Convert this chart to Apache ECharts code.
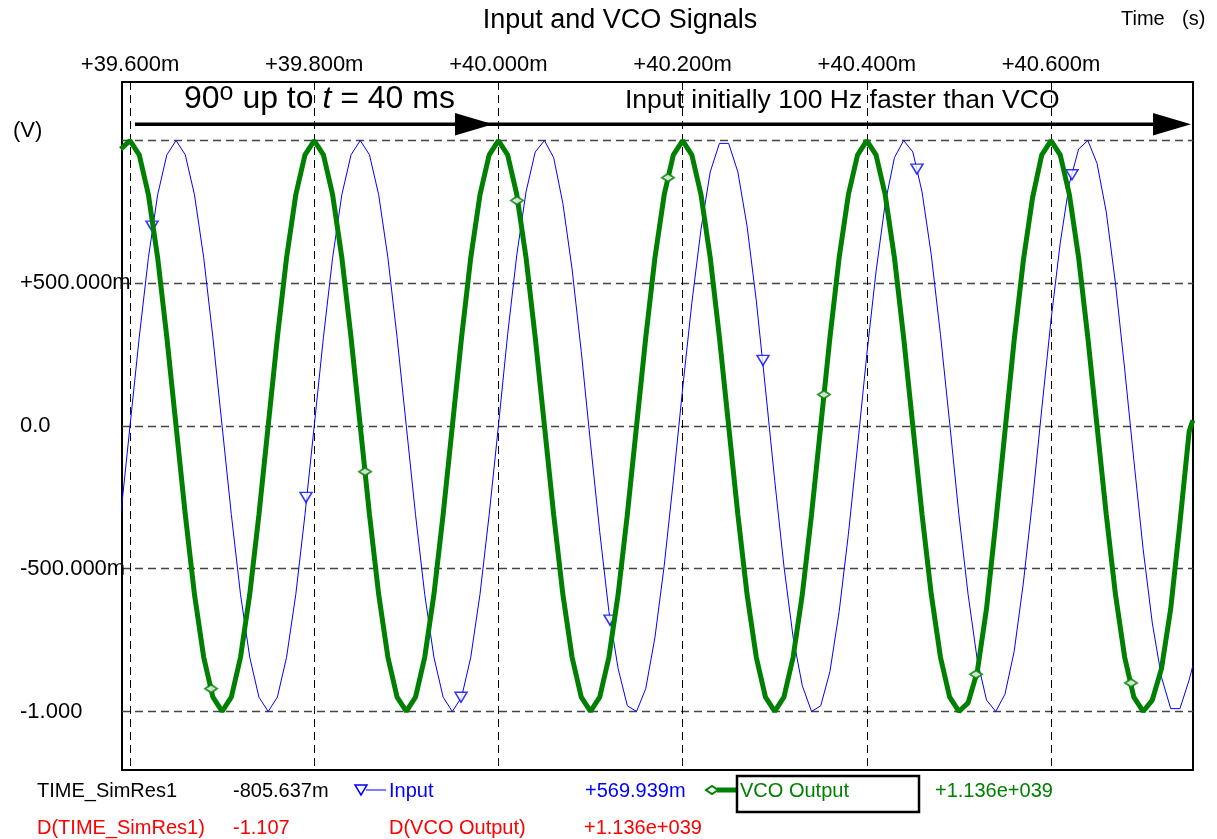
<!DOCTYPE html>
<html>
<head>
<meta charset="utf-8">
<title>Input and VCO Signals</title>
<script src="https://cdn.jsdelivr.net/npm/echarts@6/dist/echarts.min.js"></script>
<style>
  html, body { margin: 0; padding: 0; background: #fff; }
  #chart { width: 1217px; height: 839px; }
</style>
</head>
<body>
<div id="chart"></div>
<script>
// shared simulation time base (ms), last sample read at the right frame edge
const timeMs = [
  39.59, 39.60, 39.61, 39.62, 39.63, 39.64, 39.65, 39.66, 39.67, 39.68,
  39.69, 39.70, 39.71, 39.72, 39.73, 39.74, 39.75, 39.76, 39.77, 39.78,
  39.79, 39.80, 39.81, 39.82, 39.83, 39.84, 39.85, 39.86, 39.87, 39.88,
  39.89, 39.90, 39.91, 39.92, 39.93, 39.94, 39.95, 39.96, 39.97, 39.98,
  39.99, 40.00, 40.01, 40.02, 40.03, 40.04, 40.05, 40.06, 40.07, 40.08,
  40.09, 40.10, 40.11, 40.12, 40.13, 40.14, 40.15, 40.16, 40.17, 40.18,
  40.19, 40.20, 40.21, 40.22, 40.23, 40.24, 40.25, 40.26, 40.27, 40.28,
  40.29, 40.30, 40.31, 40.32, 40.33, 40.34, 40.35, 40.36, 40.37, 40.38,
  40.39, 40.40, 40.41, 40.42, 40.43, 40.44, 40.45, 40.46, 40.47, 40.48,
  40.49, 40.50, 40.51, 40.52, 40.53, 40.54, 40.55, 40.56, 40.57, 40.58,
  40.59, 40.60, 40.61, 40.62, 40.63, 40.64, 40.65, 40.66, 40.67, 40.68,
  40.69, 40.70, 40.71, 40.72, 40.73, 40.74, 40.75, 40.754
];

// Input (V)
const inputV = [
  -0.31, 0.00, 0.31, 0.59, 0.81, 0.95, 1.00, 0.95, 0.81, 0.59,
  0.31, 0.00, -0.31, -0.59, -0.81, -0.95, -1.00, -0.95, -0.81, -0.59,
  -0.31, 0.00, 0.31, 0.59, 0.81, 0.95, 1.00, 0.95, 0.81, 0.59,
  0.31, 0.00, -0.31, -0.59, -0.81, -0.95, -1.00, -0.95, -0.81, -0.59,
  -0.31, 0.00, 0.32, 0.60, 0.82, 0.96, 1.00, 0.94, 0.78, 0.55,
  0.26, -0.06, -0.37, -0.65, -0.85, -0.98, -1.00, -0.92, -0.74, -0.49,
  -0.19, 0.13, 0.43, 0.69, 0.89, 0.99, 0.99, 0.89, 0.70, 0.44,
  0.13, -0.19, -0.49, -0.74, -0.91, -1.00, -0.98, -0.86, -0.65, -0.38,
  -0.07, 0.25, 0.54, 0.78, 0.94, 1.00, 0.96, 0.82, 0.60, 0.32,
  0.01, -0.31, -0.59, -0.82, -0.96, -1.00, -0.94, -0.79, -0.55, -0.26,
  0.06, 0.37, 0.64, 0.85, 0.97, 1.00, 0.92, 0.75, 0.50, 0.20,
  -0.12, -0.43, -0.69, -0.88, -0.99, -0.99, -0.89, -0.84
];

// VCO Output (V)
const vcoV = [
  0.97, 1.00, 0.95, 0.81, 0.59, 0.31, 0.00, -0.31, -0.59, -0.81,
  -0.95, -1.00, -0.95, -0.81, -0.59, -0.31, 0.00, 0.31, 0.59, 0.81,
  0.95, 1.00, 0.95, 0.81, 0.59, 0.31, 0.00, -0.31, -0.59, -0.81,
  -0.95, -1.00, -0.95, -0.81, -0.59, -0.31, 0.00, 0.31, 0.59, 0.81,
  0.95, 1.00, 0.95, 0.81, 0.59, 0.31, 0.00, -0.31, -0.59, -0.81,
  -0.95, -1.00, -0.95, -0.81, -0.59, -0.31, 0.00, 0.31, 0.59, 0.81,
  0.95, 1.00, 0.95, 0.81, 0.59, 0.31, 0.00, -0.31, -0.59, -0.81,
  -0.95, -1.00, -0.95, -0.81, -0.59, -0.31, 0.00, 0.31, 0.59, 0.81,
  0.95, 1.00, 0.95, 0.81, 0.59, 0.31, 0.00, -0.31, -0.59, -0.81,
  -0.95, -1.00, -0.97, -0.86, -0.64, -0.34, -0.02, 0.30, 0.58, 0.80,
  0.95, 1.00, 0.95, 0.81, 0.59, 0.31, 0.00, -0.31, -0.59, -0.81,
  -0.95, -1.00, -0.96, -0.85, -0.64, -0.34, -0.02, 0.02
];

// marker points drawn on the traces
const inputMarkT = [39.6239, 39.7911, 39.9594, 40.1212, 40.2873, 40.4545, 40.6228];
const inputMarkV = [0.70, -0.25, -0.95, -0.68, 0.23, 0.90, 0.88];
const vcoMarkT = [39.688, 39.8552, 40.0202, 40.1841, 40.3535, 40.5186, 40.6869];
const vcoMarkV = [-0.92, -0.16, 0.79, 0.87, 0.11, -0.87, -0.90];

// axes
const xTicks = [39.6, 39.8, 40.0, 40.2, 40.4, 40.6];
const xTickLabels = ['+39.600m', '+39.800m', '+40.000m', '+40.200m', '+40.400m', '+40.600m'];
const yTicks = [-1, -0.5, 0, 0.5, 1];
const yTickLabels = ['-1.000', '-500.000m', '0.0', '+500.000m', ''];

const FONT = '"Liberation Sans", Arial, sans-serif';

const pairs = (xs, ys) => xs.map((x, i) => [x, ys[i]]);
const tickLabel = (ticks, labels) => (v) => {
    const i = ticks.findIndex(t => Math.abs(t - v) < 1e-6);
    return i < 0 ? '' : labels[i];
};

const txt = (x, y, text, color, size, extra) => ({
    type: 'text', x: x, y: y, silent: true,
    style: Object.assign({
        text: text, fill: color, fontSize: size, fontFamily: FONT,
        align: 'left', textAlign: 'left', verticalAlign: 'middle', textVerticalAlign: 'middle'
    }, extra || {})
});

const chart = echarts.init(document.getElementById('chart'));

const option = {
    animation: false,
    backgroundColor: '#fff',
    textStyle: { fontFamily: FONT },
    grid: {
        left: 122, top: 82, width: 1071, height: 688,
        show: true, borderColor: '#000', borderWidth: 2
    },
    xAxis: {
        type: 'value', position: 'top',
        min: 39.5913, max: 40.7542,
        axisLine: { show: false },
        axisTick: { show: false, customValues: xTicks },
        axisLabel: {
            customValues: xTicks, formatter: tickLabel(xTicks, xTickLabels),
            color: '#000', fontSize: 22, fontFamily: FONT,
            verticalAlign: 'middle', margin: 17
        },
        splitLine: { show: true, lineStyle: { color: '#000', width: 1, type: [8, 5] } }
    },
    yAxis: {
        type: 'value', min: -1.205, max: 1.205,
        axisLine: { show: false },
        axisTick: { show: false, customValues: yTicks },
        axisLabel: {
            customValues: yTicks, formatter: tickLabel(yTicks, yTickLabels),
            color: '#000', fontSize: 22, fontFamily: FONT,
            align: 'left', margin: 102
        },
        splitLine: { show: true, lineStyle: { color: '#444', width: 1.3, type: [8, 5] } }
    },
    series: [
        {
            name: 'Input', type: 'line', data: pairs(timeMs, inputV),
            showSymbol: false, z: 2, silent: true,
            lineStyle: { color: '#0000ff', width: 1 }, itemStyle: { color: '#0000ff' }
        },
        {
            name: 'Input markers', type: 'scatter', data: pairs(inputMarkT, inputMarkV),
            symbol: 'triangle', symbolRotate: 180, symbolSize: [12, 10], z: 3, silent: true,
            itemStyle: { color: '#fff', borderColor: '#0000ff', borderWidth: 1.5 }
        },
        {
            name: 'VCO Output', type: 'line', data: pairs(timeMs, vcoV),
            showSymbol: false, z: 4, silent: true,
            lineStyle: { color: '#008000', width: 5 }, itemStyle: { color: '#008000' }
        },
        {
            name: 'VCO markers', type: 'scatter', data: pairs(vcoMarkT, vcoMarkV),
            symbol: 'diamond', symbolSize: [12, 8], z: 5, silent: true,
            itemStyle: { color: '#fff', borderColor: '#008000', borderWidth: 2 }
        }
    ],
    graphic: [
        txt(620, 21, 'Input and VCO Signals', '#000', 27, { align: 'center', textAlign: 'center' }),
        txt(1121, 19, 'Time', '#000', 20),
        txt(1182, 19, '(s)', '#000', 20),
        txt(13, 131, '(V)', '#000', 22),

        // annotations
        {
            type: 'text', x: 184, y: 99, silent: true, z: 10,
            style: {
                text: '{a|90}{s|o}{a| up to }{i|t}{a| = 40 ms}',
                fill: '#000', verticalAlign: 'middle', textVerticalAlign: 'middle',
                rich: {
                    a: { fontSize: 32, fontFamily: FONT, lineHeight: 36 },
                    s: { fontSize: 25, fontFamily: FONT, lineHeight: 22, verticalAlign: 'top' },
                    i: { fontSize: 32, fontFamily: FONT, fontStyle: 'italic', lineHeight: 36 }
                }
            }
        },
        txt(625, 101, 'Input initially 100 Hz faster than VCO', '#000', 26.5),
        { type: 'line', silent: true, shape: { x1: 135, y1: 124.3, x2: 1172, y2: 124.3 }, style: { stroke: '#000', lineWidth: 3.5 } },
        { type: 'polygon', silent: true, shape: { points: [[455, 113], [493, 124.3], [455, 135.5]] }, style: { fill: '#000' } },
        { type: 'polygon', silent: true, shape: { points: [[1153, 113], [1191, 124.3], [1153, 135.5]] }, style: { fill: '#000' } },

        // legend / cursor readout row 1
        txt(37, 791, 'TIME_SimRes1', '#000', 20),
        txt(233, 791, '-805.637m', '#000', 20),
        { type: 'line', silent: true, shape: { x1: 366, y1: 790, x2: 386, y2: 790 }, style: { stroke: '#0000ff', lineWidth: 1 } },
        { type: 'polygon', silent: true, shape: { points: [[355, 785], [367, 785], [361, 795]] }, style: { fill: '#fff', stroke: '#0000ff', lineWidth: 1.5 } },
        txt(389, 791, 'Input', '#0000ff', 20),
        txt(585, 791, '+569.939m', '#0000ff', 20),
        { type: 'line', silent: true, shape: { x1: 717, y1: 790, x2: 737, y2: 790 }, style: { stroke: '#008000', lineWidth: 5 } },
        { type: 'polygon', silent: true, shape: { points: [[706, 790], [712, 786], [718, 790], [712, 794]] }, style: { fill: '#fff', stroke: '#008000', lineWidth: 2 } },
        { type: 'rect', silent: true, shape: { x: 737, y: 776, width: 182, height: 36 }, style: { fill: 'none', stroke: '#000', lineWidth: 2.5 } },
        txt(740, 791, 'VCO Output', '#008000', 20),
        txt(935, 791, '+1.136e+039', '#008000', 20),

        // row 2
        txt(37, 828, 'D(TIME_SimRes1)', '#ff0000', 20),
        txt(233, 828, '-1.107', '#ff0000', 20),
        txt(389, 828, 'D(VCO Output)', '#ff0000', 20),
        txt(584, 828, '+1.136e+039', '#ff0000', 20)
    ]
};

chart.setOption(option);
window.addEventListener('resize', () => chart.resize());
</script>
</body>
</html>
